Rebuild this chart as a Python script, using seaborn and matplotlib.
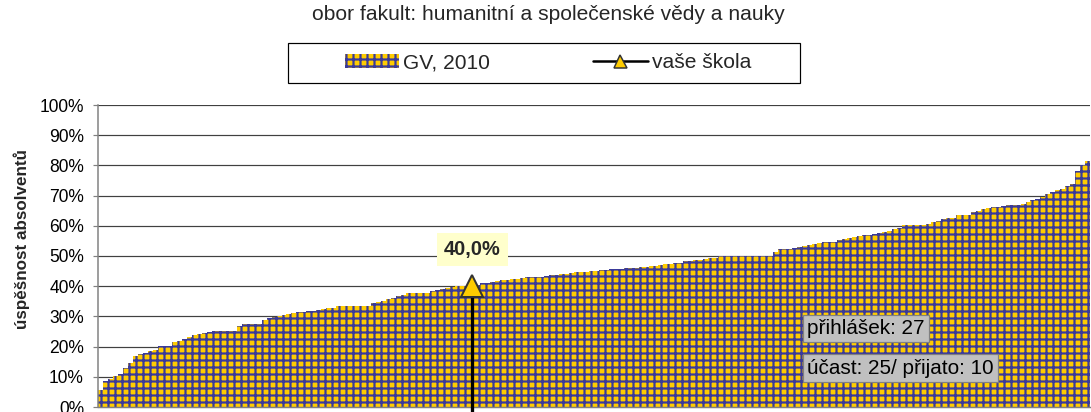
import matplotlib
matplotlib.use("Agg")
from matplotlib import pyplot as plt
from matplotlib.patches import Patch, Rectangle
from matplotlib.lines import Line2D
import seaborn as sns
import pandas as pd

# %% data
title = "obor fakult: humanitní a společenské vědy a nauky"
series_label = "GV, 2010"
school_label = "vaše škola"
y_label = "úspěšnost absolventů"

# success rate of all schools (%), sorted ascending
gv_values = [
    5.6, 8.6, 9.3, 10.3, 11.0, 13.0, 14.5, 16.9, 17.4, 18.0,
    18.6, 19.0, 20.1, 20.1, 20.1, 21.6, 21.9, 22.5, 23.2, 23.8,
    24.1, 24.5, 24.8, 25.2, 25.2, 25.2, 25.2, 25.2, 26.8, 27.5,
    27.5, 27.5, 27.5, 28.9, 29.4, 29.7, 30.2, 30.6, 30.8, 31.0,
    31.3, 31.5, 31.7, 31.9, 32.2, 32.4, 32.7, 32.9, 33.5, 33.5,
    33.5, 33.5, 33.5, 33.5, 33.5, 34.4, 34.8, 35.2, 35.6, 36.0,
    36.6, 37.1, 37.6, 37.8, 37.8, 37.8, 37.8, 38.4, 38.8, 39.0,
    39.3, 39.9, 40.0, 40.0, 40.0, 40.0, 40.5, 41.0, 41.2, 41.5,
    41.7, 41.9, 42.2, 42.4, 42.5, 42.7, 42.9, 43.0, 43.0, 43.2,
    43.4, 43.6, 43.7, 43.9, 44.1, 44.3, 44.6, 44.7, 44.8, 45.0,
    45.1, 45.2, 45.4, 45.6, 45.6, 45.8, 45.9, 46.0, 46.1, 46.4,
    46.5, 46.6, 46.8, 47.0, 47.4, 47.5, 47.6, 47.7, 48.2, 48.4,
    48.6, 48.8, 49.1, 49.3, 49.4, 50.1, 50.1, 50.1, 50.1, 50.1,
    50.1, 50.1, 50.1, 50.1, 50.1, 50.1, 51.3, 52.2, 52.4, 52.4,
    52.7, 53.0, 53.3, 53.6, 53.9, 54.3, 54.5, 54.6, 54.8, 55.2,
    55.5, 56.0, 56.4, 56.7, 56.9, 57.1, 57.3, 57.5, 57.9, 58.2,
    58.9, 59.4, 60.1, 60.1, 60.1, 60.1, 60.1, 60.7, 61.1, 61.7,
    62.4, 62.6, 62.6, 63.5, 63.5, 63.5, 64.5, 65.0, 65.4, 65.8,
    66.1, 66.3, 66.7, 66.9, 66.9, 66.9, 67.2, 67.9, 68.6, 68.8,
    69.6, 70.4, 71.2, 71.8, 72.3, 73.2, 73.9, 78.0, 80.0, 81.5,
]
school_index = 75
school_value = 40.0
school_text = "40,0%"
info_texts = ["přihlášek: 27", "účast: 25/ přijato: 10"]

y_ticks = [0, 10, 20, 30, 40, 50, 60, 70, 80, 90, 100]
y_tick_labels = [f"{v}%" for v in y_ticks]

# %% style
YELLOW = "#FFCC00"
BLUE = "#3A3A9A"
DPI = 84
W, H = 1091, 412


def pt(px):
    return px * 72 / DPI


sns.set_theme(style="white")
plt.rcParams["font.family"] = ["Liberation Sans", "DejaVu Sans"]
plt.rcParams["hatch.linewidth"] = pt(2.2)

df = pd.DataFrame({"idx": range(len(gv_values)), "value": gv_values})

fig = plt.figure(figsize=(W / DPI, H / DPI), dpi=DPI)
ax = fig.add_axes([98 / W, 1 - 407 / H, 992 / W, 302 / H])

sns.barplot(data=df, x="idx", y="value", color=YELLOW, saturation=1,
            width=1, ax=ax, zorder=2)
for p in ax.patches:
    p.set_hatch("++")
    p.set_edgecolor(BLUE)
    p.set_linewidth(0)
    p.set_antialiased(False)

# school marker with drop line
ax.plot([school_index, school_index], [school_value, -3], color="black",
        lw=pt(3.3), clip_on=False, zorder=4)
ax.plot([school_index], [school_value], marker="^", ms=pt(22), mfc=YELLOW,
        mec="#333333", mew=pt(2), ls="none", zorder=5, clip_on=False)
ax.text(school_index, 52.2, school_text, ha="center", va="center",
        fontsize=pt(20), fontweight="bold", zorder=6,
        bbox=dict(boxstyle="square,pad=0.35", fc="#FFFFCC", ec="none"))

# info boxes
for txt, yy in zip(info_texts, [0.26, 0.129]):
    ax.text(0.7147, yy, txt, transform=ax.transAxes, ha="left", va="center",
            fontsize=pt(20.8), color="black", zorder=6,
            bbox=dict(boxstyle="square,pad=0.2", fc="#C0C0C0", ec="#808080",
                      lw=pt(1.2)))

# axes
ax.set_xlim(-0.5, len(gv_values) - 0.5)
ax.set_ylim(0, 100)
ax.set_yticks(y_ticks)
ax.set_yticklabels(y_tick_labels)
ax.set_xticks([])
ax.set_xlabel("")
ax.set_ylabel(y_label, fontsize=pt(17), fontweight="bold")
ax.yaxis.set_label_coords(-0.0685, 0.556)
ax.yaxis.grid(True, color="#404040", lw=pt(1.2))
ax.set_axisbelow(True)
ax.tick_params(axis="y", length=pt(5), width=pt(1.2), color="#808080",
               labelsize=pt(17.5), pad=pt(9), labelcolor="black", left=True)
for s in ["top", "right"]:
    ax.spines[s].set_visible(False)
ax.spines["left"].set_color("#808080")
ax.spines["left"].set_linewidth(pt(1.5))
ax.spines["bottom"].set_color("#808080")

# title and legend
fig.text(548 / W, 1 - 15 / H, title, ha="center", va="center", fontsize=pt(21))
handles = [
    Patch(facecolor=YELLOW, edgecolor=BLUE, hatch="++", lw=0),
    Line2D([0], [0], color="black", lw=pt(2.5), marker="^", ms=pt(13),
           mfc=YELLOW, mec="#333333", mew=pt(1.5)),
]
fig.legend(handles, [series_label, school_label], ncol=2, loc="center",
           bbox_to_anchor=(548 / W, 1 - 63 / H), frameon=False,
           fontsize=pt(21), handlelength=2.6, handletextpad=0.2,
           columnspacing=4.9, handleheight=0.6)
fig.add_artist(Rectangle((288 / W, 1 - 83 / H), 512 / W, 40 / H,
                         transform=fig.transFigure, fill=False,
                         edgecolor="black", lw=pt(1.2)))

fig.savefig("out.png", dpi=DPI)
